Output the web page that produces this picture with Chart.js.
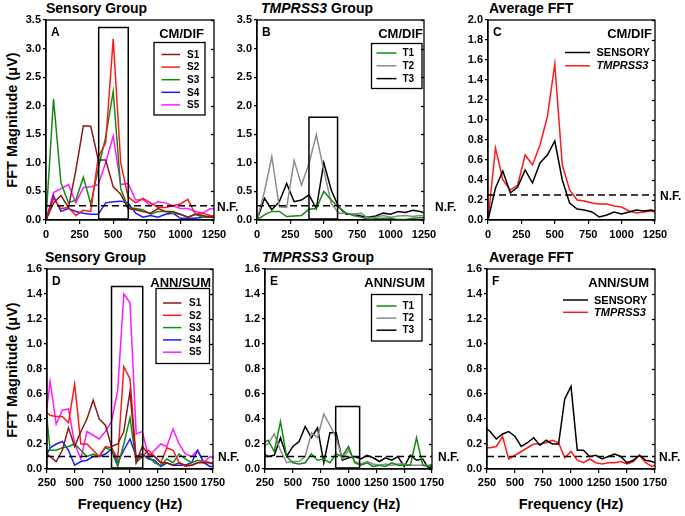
<!DOCTYPE html>
<html>
<head>
<meta charset="utf-8">
<script src="https://cdn.jsdelivr.net/npm/chart.js@4.4.0/dist/chart.umd.min.js"></script>
<style>
  body { margin: 0; background: #fff; }
  #wrap { position: relative; width: 685px; height: 516px; overflow: hidden; background: #fff;
          font-family: "Liberation Sans", Arial, sans-serif; color: #000; }
  canvas { position: absolute; }
  .t { position: absolute; font-weight: bold; white-space: nowrap; line-height: 16px; font-size: 14px; }
  .ytitle { position: absolute; width: 200px; height: 16px; line-height: 16px; text-align: center;
            font-weight: bold; font-size: 14.5px; white-space: nowrap; transform: rotate(-90deg); }
  .xtitle { position: absolute; width: 200px; text-align: center; font-weight: bold; font-size: 14.5px;
            line-height: 16px; white-space: nowrap; }
</style>
</head>
<body>
<div id="wrap">
  <div class="t" style="left:46px;top:0px">Sensory Group</div>
  <div class="t" style="left:261px;top:0px"><i>TMPRSS3</i> Group</div>
  <div class="t" style="left:489px;top:0px">Average FFT</div>
  <div class="t" style="left:45px;top:249px">Sensory Group</div>
  <div class="t" style="left:262px;top:249px"><i>TMPRSS3</i> Group</div>
  <div class="t" style="left:489px;top:249px">Average FFT</div>
  <div class="ytitle" style="left:-88px;top:112px">FFT Magnitude (μV)</div>
  <div class="ytitle" style="left:-88px;top:362px">FFT Magnitude (μV)</div>
  <div class="xtitle" style="left:30px;top:496px">Frequency (Hz)</div>
  <div class="xtitle" style="left:248px;top:496px">Frequency (Hz)</div>
  <div class="xtitle" style="left:471px;top:496px">Frequency (Hz)</div>
</div>
<script>
// frequency bins (Hz)
const freqTop = [0, 56, 111, 167, 222, 278, 333, 389, 444, 500, 556, 611, 667, 722, 778, 833, 889, 944, 1000, 1056, 1111, 1167, 1222, 1278];
const freqBot = [222, 278, 333, 389, 444, 500, 556, 611, 667, 722, 778, 833, 889, 944, 1000, 1056, 1111, 1167, 1222, 1278, 1333, 1389, 1444, 1500, 1556, 1611, 1667, 1722, 1778];

// CM/DIF, sensory group
const cmS1 = [0, 0.30, 0.43, 0.22, 0.87, 1.65, 1.64, 1.05, 1.05, 0.58, 0.45, 0.20, 0.18, 0.15, 0.12, 0.20, 0.15, 0.15, 0.10, 0.05, 0.10, 0.08, 0.05, 0.05];
const cmS2 = [0, 0.38, 0.20, 0.22, 0.08, 0.17, 0.15, 1.10, 1.35, 3.17, 1.00, 0.40, 0.30, 0.38, 0.30, 0.22, 0.22, 0.25, 0.28, 0.36, 0.10, 0.12, 0.08, 0.06];
const cmS3 = [0, 2.12, 0.65, 0.30, 0.35, 0.75, 0.28, 0.90, 1.45, 2.25, 0.55, 0.22, 0.20, 0.18, 0.10, 0.15, 0.15, 0.12, 0.10, 0.05, 0.10, 0.05, 0.05, 0.04];
const cmS4 = [0, 0.42, 0.15, 0.20, 0.15, 0.12, 0.10, 0.10, 0.30, 0.32, 0.33, 0.30, 0.12, 0.05, 0.08, 0.05, 0.10, 0.12, 0.03, 0.03, 0.03, 0.05, 0.07, 0.05];
const cmS5 = [0, 0.48, 0.55, 0.62, 0.30, 0.57, 0.58, 0.62, 1.00, 1.47, 0.62, 0.64, 0.35, 0.36, 0.25, 0.32, 0.30, 0.25, 0.20, 0.20, 0.15, 0.12, 0.20, 0.18];
// CM/DIF, TMPRSS3 group
const cmT1 = [0, 0.09, 0.15, 0.15, 0.06, 0.07, 0.08, 0.19, 0.20, 0.50, 0.35, 0.22, 0.12, 0.08, 0.05, 0.01, 0.02, 0.03, 0.03, 0.01, 0.01, 0.03, 0.04, 0.04];
const cmT2 = [0, 0.50, 1.11, 0.23, 0.22, 1.04, 0.61, 0.99, 1.49, 0.87, 0.29, 0.12, 0.12, 0.10, 0.12, 0.03, 0.05, 0.08, 0.05, 0.07, 0.08, 0.06, 0.08, 0.06];
const cmT3 = [0, 0.38, 0.18, 0.32, 0.64, 0.32, 0.35, 0.44, 0.20, 1.00, 0.52, 0.23, 0.10, 0.10, 0.07, 0.05, 0.07, 0.12, 0.10, 0.15, 0.13, 0.17, 0.15, 0.10];
// CM/DIF averages
const cmAvgSens = [0, 0.32, 0.49, 0.27, 0.33, 0.50, 0.37, 0.57, 0.65, 0.79, 0.40, 0.17, 0.11, 0.10, 0.08, 0.03, 0.05, 0.08, 0.06, 0.08, 0.10, 0.09, 0.10, 0.08];
const cmAvgTmp = [0, 0.72, 0.40, 0.30, 0.35, 0.65, 0.55, 0.75, 1.03, 1.56, 0.55, 0.30, 0.20, 0.19, 0.17, 0.16, 0.16, 0.14, 0.13, 0.09, 0.07, 0.08, 0.09, 0.07];

// ANN/SUM, sensory group
const annS1 = [0.14, 0.10, 0.06, 0.15, 0.33, 0.18, 0.30, 0.40, 0.55, 0.40, 0.35, 0.18, 0.20, 0.30, 0.62, 0.05, 0.18, 0.12, 0.10, 0.05, 0.05, 0.03, 0.05, 0.03, 0.03, 0.05, 0.05, 0.05, 0.04];
const annS2 = [0.47, 0.43, 0.42, 0.42, 0.37, 0.68, 0.20, 0.20, 0.15, 0.10, 0.18, 0.17, 0.08, 0.82, 0.72, 0.08, 0.10, 0.15, 0.10, 0.05, 0.17, 0.15, 0.05, 0.02, 0.03, 0.05, 0.06, 0.05, 0.04];
const annS3 = [0.65, 0.15, 0.15, 0.17, 0.18, 0.20, 0.15, 0.10, 0.12, 0.10, 0.17, 0.15, 0.02, 0.20, 0.41, 0.05, 0.10, 0.10, 0.05, 0.03, 0.08, 0.05, 0.12, 0.08, 0.05, 0.07, 0.06, 0.05, 0.03];
const annS4 = [0.07, 0.17, 0.20, 0.22, 0.15, 0.03, 0.06, 0.07, 0.10, 0.10, 0.12, 0.16, 0.05, 0.15, 0.24, 0.10, 0.12, 0.08, 0.07, 0.02, 0.05, 0.03, 0.03, 0.03, 0.05, 0.15, 0.05, 0.02, 0.02];
const annS5 = [0.30, 0.70, 0.36, 0.47, 0.48, 0.20, 0.08, 0.30, 0.27, 0.24, 0.30, 0.38, 0.63, 1.40, 1.33, 0.28, 0.30, 0.10, 0.15, 0.20, 0.18, 0.32, 0.20, 0.12, 0.10, 0.15, 0.05, 0.10, 0.08];
// ANN/SUM, TMPRSS3 group
const annT1 = [0.20, 0.23, 0.14, 0.38, 0.10, 0.05, 0.04, 0.05, 0.12, 0.07, 0.08, 0.05, 0.12, 0.10, 0.18, 0.05, 0.03, 0.05, 0.02, 0.03, 0.02, 0.05, 0.03, 0.03, 0.03, 0.25, 0.03, 0.02, 0.05];
const annT2 = [0.18, 0.20, 0.28, 0.15, 0.05, 0.06, 0.06, 0.10, 0.29, 0.25, 0.44, 0.35, 0.25, 0.08, 0.15, 0.06, 0.04, 0.06, 0.04, 0.03, 0.04, 0.03, 0.04, 0.04, 0.03, 0.03, 0.03, 0.03, 0.04];
const annT3 = [0.13, 0.10, 0.11, 0.25, 0.10, 0.18, 0.22, 0.34, 0.25, 0.33, 0.05, 0.29, 0.29, 0.07, 0.09, 0.10, 0.08, 0.11, 0.09, 0.06, 0.09, 0.07, 0.10, 0.02, 0.11, 0.07, 0.08, 0.00, 0.05];
// ANN/SUM averages
const annAvgSens = [0.34, 0.30, 0.24, 0.28, 0.30, 0.26, 0.18, 0.21, 0.25, 0.19, 0.23, 0.20, 0.20, 0.56, 0.66, 0.15, 0.15, 0.10, 0.11, 0.08, 0.10, 0.12, 0.10, 0.05, 0.07, 0.11, 0.07, 0.06, 0.04];
const annAvgTmp = [0.17, 0.17, 0.18, 0.26, 0.08, 0.11, 0.14, 0.17, 0.20, 0.20, 0.21, 0.23, 0.21, 0.09, 0.14, 0.07, 0.05, 0.08, 0.05, 0.04, 0.05, 0.05, 0.06, 0.04, 0.06, 0.11, 0.05, 0.02, 0.04];

// noise floor levels, [CM/DIF, ANN/SUM]
const noiseFloor = [0.25, 0.1];
// highlighted windows: [from Hz, to Hz, height]
const winA = [392, 612, 3.37];
const winB = [389, 603, 1.80];
const winD = [833, 1115, 1.46];
const winE = [885, 1100, 0.50];

const FONT = '"Liberation Sans", Arial, sans-serif';
const colS = ['#8b1a1a', '#ff1a1a', '#158a15', '#1a1aff', '#ff1aff'];
const colT = ['#158a15', '#8c8c8c', '#000000'];

function pts(xs, ys) { return ys.map((v, i) => ({ x: xs[i], y: v })); }

function series(xs, list) {
  return list.map(s => ({
    label: s.label, data: pts(xs, s.data), borderColor: s.color,
    borderWidth: 1.5, pointRadius: 0, tension: 0, fill: false, italic: s.italic
  }));
}

function windowSets(w) {
  if (!w) return [];
  return [
    { data: [{x: w[0], y: 0}, {x: w[0], y: w[2]}, {x: w[1], y: w[2]}, {x: w[1], y: 0}],
      borderColor: '#000', borderWidth: 1.5, pointRadius: 0, tension: 0, fill: false, helper: true },
    { data: [{x: w[0], y: 0}, {x: w[1], y: 0}],
      borderColor: '#000', borderWidth: 3.5, pointRadius: 0, fill: false, helper: true }
  ];
}

const decor = {
  id: 'decor',
  afterDatasetsDraw(chart, args, o) {
    const { ctx, chartArea: a, scales } = chart;
    ctx.save();
    ctx.strokeStyle = '#000';
    ctx.lineWidth = 1.3;
    ctx.strokeRect(a.left, a.top, a.right - a.left, a.bottom - a.top);
    scales.y.ticks.forEach(t => {
      const y = Math.round(scales.y.getPixelForValue(t.value)) + 0.5;
      ctx.beginPath(); ctx.moveTo(a.right - 3, y); ctx.lineTo(a.right, y); ctx.stroke();
    });
    ctx.fillStyle = '#000';
    ctx.textBaseline = 'middle';
    ctx.textAlign = 'left';
    ctx.font = 'bold 12px ' + FONT;
    ctx.fillText(o.letter, a.left + 5, a.top + 13);
    ctx.textAlign = 'right';
    ctx.font = 'bold 13px ' + FONT;
    ctx.fillText(o.tag, a.right - o.tagDx, a.top + 14.5);
    ctx.textAlign = 'left';
    ctx.font = 'bold 12px ' + FONT;
    ctx.fillText('N.F.', a.right + o.nfDx, scales.y.getPixelForValue(o.nf) + 1.5);

    const L = o.legend;
    const bx = a.right + L.x, by = a.top + L.y;
    if (L.w) { ctx.lineWidth = 1.3; ctx.strokeRect(bx, by, L.w, L.h); }
    const items = chart.data.datasets.filter(d => !d.helper && d.label);
    items.forEach((d, i) => {
      const y = by + L.row0 + i * L.gap;
      ctx.strokeStyle = d.borderColor;
      ctx.lineWidth = 1.5;
      ctx.beginPath(); ctx.moveTo(bx + L.l0, y); ctx.lineTo(bx + L.l1, y); ctx.stroke();
      ctx.font = (d.italic ? 'italic ' : '') + 'bold ' + L.size + 'px ' + FONT;
      ctx.fillText(d.label, bx + L.tx, y + 0.5);
    });
    ctx.restore();
  }
};

const panels = [
  { area: [46, 20, 214, 220], xr: [0, 1250], yr: [0, 3.5, 0.5], nf: noiseFloor[0], win: winA,
    letter: 'A', tag: 'CM/DIF', tagDx: 10, nfDx: 3,
    lines: series(freqTop, [
      {label: 'S1', data: cmS1, color: colS[0]}, {label: 'S2', data: cmS2, color: colS[1]},
      {label: 'S3', data: cmS3, color: colS[2]}, {label: 'S4', data: cmS4, color: colS[3]},
      {label: 'S5', data: cmS5, color: colS[4]}]),
    legend: { x: -60, y: 22.5, w: 51, h: 72.5, row0: 12, gap: 12.6, l0: 7.5, l1: 26, tx: 33, size: 10 } },
  { area: [257, 20, 424, 220], xr: [0, 1250], yr: [0, 3.5, 0.5], nf: noiseFloor[0], win: winB,
    letter: 'B', tag: 'CM/DIF', tagDx: 1, nfDx: 11,
    lines: series(freqTop, [
      {label: 'T1', data: cmT1, color: colT[0]}, {label: 'T2', data: cmT2, color: colT[1]},
      {label: 'T3', data: cmT3, color: colT[2]}]),
    legend: { x: -52.5, y: 23.5, w: 50.5, h: 45, row0: 9.5, gap: 12.8, l0: 5, l1: 25, tx: 31, size: 10 } },
  { area: [488, 20, 655, 220], xr: [0, 1250], yr: [0, 2.0, 0.2], nf: noiseFloor[0], win: null,
    letter: 'C', tag: 'CM/DIF', tagDx: 3,  nfDx: 5,
    lines: series(freqTop, [
      {label: 'SENSORY', data: cmAvgSens, color: '#000'},
      {label: 'TMPRSS3', data: cmAvgTmp, color: '#ff1a1a', italic: true}]),
    legend: { x: -90, y: 32.5, w: 0, h: 0, row0: 0, gap: 13.3, l0: 0, l1: 25, tx: 31.5, size: 11 } },
  { area: [47, 269, 213, 469], xr: [250, 1750], yr: [0, 1.6, 0.2], nf: noiseFloor[1], win: winD,
    letter: 'D', tag: 'ANN/SUM', tagDx: 2, nfDx: 5,
    lines: series(freqBot, [
      {label: 'S1', data: annS1, color: colS[0]}, {label: 'S2', data: annS2, color: colS[1]},
      {label: 'S3', data: annS3, color: colS[2]}, {label: 'S4', data: annS4, color: colS[3]},
      {label: 'S5', data: annS5, color: colS[4]}]),
    legend: { x: -57, y: 19.5, w: 53.5, h: 75, row0: 14.5, gap: 12.3, l0: 7, l1: 25.5, tx: 33, size: 10 } },
  { area: [265, 269, 432, 469], xr: [250, 1750], yr: [0, 1.6, 0.2], nf: noiseFloor[1], win: winE,
    letter: 'E', tag: 'ANN/SUM', tagDx: 7, nfDx: 6,
    lines: series(freqBot, [
      {label: 'T1', data: annT1, color: colT[0]}, {label: 'T2', data: annT2, color: colT[1]},
      {label: 'T3', data: annT3, color: colT[2]}]),
    legend: { x: -60.5, y: 25.5, w: 50.5, h: 46.5, row0: 11.5, gap: 12.1, l0: 5, l1: 25, tx: 31, size: 10 } },
  { area: [487, 269, 655, 469], xr: [250, 1750], yr: [0, 1.6, 0.2], nf: noiseFloor[1], win: null,
    letter: 'F', tag: 'ANN/SUM', tagDx: 6, nfDx: 4,
    lines: series(freqBot, [
      {label: 'SENSORY', data: annAvgSens, color: '#000'},
      {label: 'TMPRSS3', data: annAvgTmp, color: '#ff1a1a', italic: true}]),
    legend: { x: -92, y: 31, w: 0, h: 0, row0: 0, gap: 12.3, l0: 0, l1: 25, tx: 31, size: 11 } }
];

const wrap = document.getElementById('wrap');
const PADL = 40, PADT = 10, PADR = 38, PADB = 25;

panels.forEach(p => {
  const [L, T, R, B] = p.area;
  const x0 = L - PADL, y0 = T - PADT;
  const w = R + PADR - x0, h = B + PADB - y0;
  const cv = document.createElement('canvas');
  cv.width = w; cv.height = h;
  cv.style.left = x0 + 'px'; cv.style.top = y0 + 'px';
  cv.style.width = w + 'px'; cv.style.height = h + 'px';
  wrap.appendChild(cv);

  const nfSet = {
    data: [{x: p.xr[0], y: p.nf}, {x: p.xr[1], y: p.nf}], borderColor: '#000', borderWidth: 1.5,
    borderDash: [7, 4], pointRadius: 0, fill: false, helper: true
  };
  const datasets = [nfSet].concat(windowSets(p.win), p.lines);
  const top = T < 100;

  new Chart(cv, {
    type: 'line',
    data: { datasets },
    plugins: [decor],
    options: {
      responsive: false, animation: false, devicePixelRatio: 1,
      layout: { padding: { left: 0, top: PADT, right: PADR, bottom: 0 } },
      plugins: { legend: { display: false }, tooltip: { enabled: false }, title: { display: false },
        decor: { letter: p.letter, tag: p.tag, tagDx: p.tagDx, nf: p.nf, nfDx: p.nfDx, legend: p.legend } },
      scales: {
        x: {
          type: 'linear', min: p.xr[0], max: p.xr[1],
          afterFit: s => { s.height = PADB; },
          border: { display: true, color: '#000', width: 1.3 },
          grid: { display: true, drawOnChartArea: false, drawTicks: true, tickLength: 4, color: '#000', lineWidth: 1.2 },
          ticks: { stepSize: 250, autoSkip: false, maxRotation: 0, padding: top ? 4 : 3, color: '#000',
                   font: { family: FONT, size: 11, weight: 'bold' },
                   callback: v => String(v) }
        },
        y: {
          min: p.yr[0], max: p.yr[1],
          afterFit: s => { s.width = PADL; },
          border: { display: true, color: '#000', width: 1.3 },
          grid: { display: true, drawOnChartArea: false, drawTicks: true, tickLength: 3, color: '#000', lineWidth: 1.2 },
          ticks: { stepSize: p.yr[2], autoSkip: false, padding: 2, color: '#000',
                   font: { family: FONT, size: 11, weight: 'bold' },
                   callback: v => Number(v).toFixed(1) }
        }
      }
    }
  });
});
</script>
</body>
</html>
